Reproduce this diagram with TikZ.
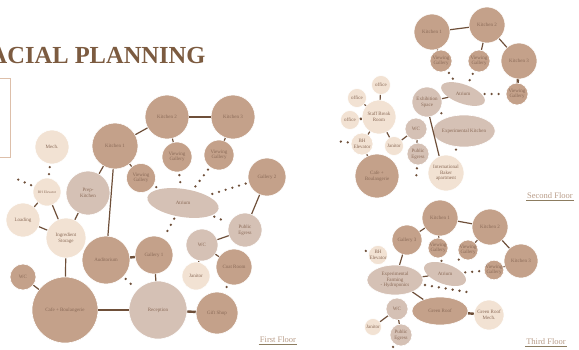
\documentclass[tikz,border=0pt]{standalone}
\usepackage{fontspec}
\setmainfont{Liberation Serif}
\usetikzlibrary{shapes.geometric}
\definecolor{roomdark}{HTML}{C4A18A}
\definecolor{roomgrey}{HTML}{D5C1B5}
\definecolor{roompale}{HTML}{F2E2D3}
\definecolor{roomtext}{HTML}{8A6A57}
\definecolor{linkbrown}{HTML}{6E4F39}
\definecolor{titlebrown}{HTML}{7C5B40}
\definecolor{floortext}{HTML}{B89C88}
\definecolor{floorrule}{HTML}{8C7C60}
\definecolor{boxedge}{HTML}{DDBFAA}
\tikzset{
  roomlabel/.style={inner sep=0pt, align=center, text=roomtext, font=\fontsize{5}{5.6}\selectfont},
  room/.style={roomlabel, circle, draw=white, line width=0.6pt},
  darkroom/.style={room, fill=roomdark},
  greyroom/.style={room, fill=roomgrey},
  paleroom/.style={room, fill=roompale},
  oval/.style={ellipse, inner sep=0pt},
  link/.style={draw=linkbrown, line width=1.2pt},
  heavylink/.style={link, line width=2.4pt},
  dotlink/.style={draw=linkbrown, line width=2.6pt, line cap=round, dash pattern=on 0pt off 7pt, shorten <=3pt, shorten >=3pt},
  floorlabel/.style={text=floortext, inner sep=1pt, font=\fontsize{8.5}{9}\selectfont},
  floorline/.style={draw=floorrule, line width=1.1pt}
}
\begin{document}
\begin{tikzpicture}[x=1pt,y=-1pt]
\useasboundingbox (0,0) rectangle (579,349);
% title and side box
\node[anchor=base west, inner sep=0pt, text=titlebrown, font=\fontsize{24.5}{26}\selectfont\bfseries] (ttl) at (-10.5,63) {ACIAL PLANNING};
\draw[boxedge, line width=0.9pt] (0,78) -- (10,78) -- (10,157) -- (0,157);

% first floor
\node[paleroom, minimum size=34pt] (mech) at (52,147) {Mech.};
\node[paleroom, minimum size=28pt, font=\fontsize{3.6}{4}\selectfont] (bhe) at (47,192) {BH Elevator};
\node[paleroom, minimum size=34pt] (load) at (23,220) {Loading};
\node[paleroom, minimum size=40pt] (ingr) at (66,238) {Ingredient\\Storage};
\node[greyroom, minimum size=44pt] (prep) at (88,193) {Prep-\\Kitchen};
\node[darkroom, minimum size=46pt] (kitA) at (115,146) {Kitchen 1};
\node[darkroom, minimum size=44pt] (kitB) at (167,117) {Kitchen 2};
\node[darkroom, minimum size=44pt] (kitC) at (233,117) {Kitchen 3};
\node[darkroom, minimum size=29pt] (vgA) at (141,178) {Viewing\\Gallery};
\node[darkroom, minimum size=30pt] (vgB) at (177,157) {Viewing\\Gallery};
\node[darkroom, minimum size=30pt] (vgC) at (219,155) {Viewing\\Gallery};
\node[oval, fill=roomgrey, minimum width=72pt, minimum height=28pt, rotate=-9] (atr) at (183,203) {};
\node[roomlabel] (atrtxt) at (atr) {Atrium};
\node[darkroom, minimum size=38pt] (gal2) at (267,177) {Gallery 2};
\node[darkroom, minimum size=48pt] (aud) at (106,260) {Auditorium};
\node[darkroom, minimum size=38pt] (gal1) at (154,255) {Gallery 1};
\node[darkroom, minimum size=26pt] (wcA) at (23,277) {WC};
\node[darkroom, minimum size=66pt] (cafe) at (65,310) {Cafe + Boulangerie};
\node[greyroom, minimum size=58pt] (recp) at (158,310) {Reception};
\node[greyroom, minimum size=34pt] (egr) at (245,230) {Public\\Egress};
\node[greyroom, minimum size=32pt] (wcB) at (202,245) {WC};
\node[paleroom, minimum size=28pt] (jan) at (196,276) {Janitor};
\node[darkroom, minimum size=36pt] (coat) at (234,267) {Coat Room};
\node[darkroom, minimum size=42pt] (gift) at (217,313) {Gift Shop};
\coordinate (bheout) at (12,177);

\draw[link] (bhe) -- (load);
\draw[link] (bhe) -- (ingr);
\draw[link] (load) -- (ingr);
\draw[link] (ingr) -- (prep);
\draw[link] (prep) -- (kitA);
\draw[link] (kitA) -- (kitB);
\draw[link] (kitB) -- (kitC);
\draw[link] (kitA) -- (vgA);
\draw[link] (kitB) -- (vgB);
\draw[link] (kitC) -- (vgC);
\draw[link] (kitA) -- (aud);
\draw[heavylink] (aud) -- (gal1);
\draw[link] (gal1) -- (recp);
\draw[link] (ingr) -- (cafe);
\draw[link] (wcA) -- (cafe);
\draw[heavylink] (cafe) -- (recp);
\draw[heavylink] (recp) -- (gift);
\draw[link] (gal2) -- (egr);
\draw[link] (egr) -- (wcB);
\draw[link] (wcB) -- (jan);
\draw[link] (wcB) -- (coat);
\draw[dotlink] (mech) -- (bhe);
\draw[dotlink] (bhe) -- (bheout);
\draw[dotlink] (vgA) -- (atr);
\draw[dotlink] (vgB) -- (atr);
\draw[dotlink] (vgC) -- (atr);
\draw[dotlink] (gal2) -- (atr);
\draw[dotlink] (atr) -- (egr);
\draw[dotlink] (atr) -- (gal1);
\draw[dotlink] (aud) -- (recp);
\draw[dotlink] (coat) -- (gift);
\node[floorlabel] (lblA) at (278,340) {First Floor};
\draw[floorline] (lblA.south west) -- (lblA.south east);

% second floor
\node[darkroom, minimum size=36pt] (kitD) at (432,32) {Kitchen 1};
\node[darkroom, minimum size=36pt] (kitE) at (487,25) {Kitchen 2};
\node[darkroom, minimum size=36pt] (kitF) at (519,61) {Kitchen 3};
\node[darkroom, minimum size=22pt] (vgD) at (441,61) {Viewing\\Gallery};
\node[darkroom, minimum size=22pt] (vgE) at (479,61) {Viewing\\Gallery};
\node[darkroom, minimum size=22pt] (vgF) at (517,94) {Viewing\\Gallery};
\node[oval, fill=roomgrey, minimum width=46pt, minimum height=19pt, rotate=-20] (atrB) at (463,94) {};
\node[roomlabel] (atrBtxt) at (atrB) {Atrium};
\node[greyroom, minimum size=30pt] (exhb) at (427,102) {Exhibition\\Space};
\node[roomlabel, oval, fill=roomgrey, draw=white, line width=0.6pt, minimum width=56pt, minimum height=32pt] (expk) at (464,131) {Experimental Kitchen};
\node[paleroom, minimum size=19pt] (offA) at (381,85) {office};
\node[paleroom, minimum size=19pt] (offB) at (357,98) {office};
\node[paleroom, minimum size=19pt] (offC) at (350,120) {office};
\node[paleroom, minimum size=34pt] (staff) at (379,117) {Staff Break\\Room};
\node[paleroom, minimum size=22pt] (bhB) at (362,144) {BH\\Elevator};
\node[paleroom, minimum size=19pt] (janB) at (394,146) {Janitor};
\node[greyroom, minimum size=22pt] (wcC) at (416,129) {WC};
\node[greyroom, minimum size=22pt] (egrB) at (418,154) {Public\\Egress};
\node[darkroom, minimum size=44pt] (cafeB) at (377,176) {Cafe +\\Boulangerie};
\node[paleroom, minimum size=36pt] (bake) at (446,173) {International\\Baker\\apartment};
\coordinate (bhBout) at (336,141);
\coordinate (egrBout) at (416,181);

\draw[link] (kitD) -- (kitE);
\draw[link] (kitE) -- (kitF);
\draw[link] (kitD) -- (vgD);
\draw[link] (kitE) -- (vgE);
\draw[heavylink] (kitF) -- (vgF);
\draw[link] (exhb) -- (atrB);
\draw[link] (exhb.-80) -- (bake.112);
\draw[link] (offA) -- (staff);
\draw[link] (offB) -- (staff);
\draw[heavylink] (offC) -- (staff);
\draw[link] (staff) -- (bhB);
\draw[link] (staff) -- (janB);
\draw[link] (janB) -- (wcC);
\draw[link] (wcC) -- (egrB);
\draw[link] (bhB) -- (cafeB);
\draw[dotlink] (vgD) -- (atrB);
\draw[dotlink] (vgE) -- (atrB);
\draw[dotlink] (atrB) -- (vgF);
\draw[dotlink] (exhb) -- (expk);
\draw[dotlink] (expk) -- (bake);
\draw[dotlink] (bhB) -- (bhBout);
\draw[dotlink] (egrB) -- (egrBout);
\node[floorlabel] (lblB) at (550,196) {Second Floor};
\draw[floorline] (lblB.south west) -- (lblB.south east);

% third floor
\node[darkroom, minimum size=36pt] (kitG) at (440,218) {Kitchen 1};
\node[darkroom, minimum size=36pt] (kitH) at (490,227) {Kitchen 2};
\node[darkroom, minimum size=34pt] (kitI) at (521,261) {Kitchen 3};
\node[darkroom, minimum size=30pt] (gal3) at (407,240) {Gallery 3};
\node[darkroom, minimum size=20pt] (vgG) at (438,248) {Viewing\\Gallery};
\node[darkroom, minimum size=20pt] (vgH) at (468,250) {Viewing\\Gallery};
\node[darkroom, minimum size=19pt] (vgI) at (494,270) {Viewing\\Gallery};
\node[paleroom, minimum size=19pt] (bhC) at (378,255) {BH\\Elevator};
\node[oval, fill=roomgrey, minimum width=44pt, minimum height=20pt, rotate=-20] (atrC) at (445,274) {};
\node[roomlabel] (atrCtxt) at (atrC) {Atrium};
\node[roomlabel, oval, fill=roomgrey, draw=white, line width=0.6pt, minimum width=56pt, minimum height=30pt] (farm) at (395,280) {Experimental\\Farming\\- Hydroponics};
\node[roomlabel, oval, fill=roomdark, draw=white, line width=0.6pt, minimum width=56pt, minimum height=28pt] (roof) at (440,311) {Green Roof};
\node[paleroom, minimum size=30pt] (rmech) at (489,315) {Green Roof\\Mech.};
\node[greyroom, minimum size=22pt] (wcD) at (397,309) {WC};
\node[paleroom, minimum size=17pt] (janC) at (373,327) {Janitor};
\node[greyroom, minimum size=22pt] (egrC) at (401,335) {Public\\Egress};
\coordinate (bhCout) at (357,248);
\coordinate (farmout) at (473,293);
\coordinate (egrCout) at (389,353);

\draw[link] (gal3) -- (kitG);
\draw[link] (kitG) -- (kitH);
\draw[link] (kitH) -- (kitI);
\draw[link] (kitG) -- (vgG);
\draw[link] (kitH) -- (vgH);
\draw[link] (kitI) -- (vgI);
\draw[link] (gal3) -- (farm);
\draw[link] (farm) -- (atrC);
\draw[link] (farm) -- (roof);
\draw[heavylink] (roof) -- (rmech);
\draw[link] (wcD) -- (janC);
\draw[link] (wcD) -- (egrC);
\draw[dotlink] (vgG) -- (atrC);
\draw[dotlink] (vgH) -- (atrC);
\draw[dotlink] (atrC) -- (vgI);
\draw[dotlink] (farm) -- (farmout);
\draw[dotlink] (bhC) -- (bhCout);
\draw[dotlink] (egrC) -- (egrCout);
\node[floorlabel] (lblC) at (546,342) {Third Floor};
\draw[floorline] (lblC.south west) -- (lblC.south east);
\end{tikzpicture}
\end{document}
